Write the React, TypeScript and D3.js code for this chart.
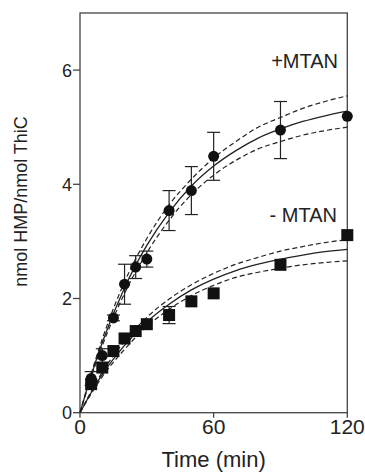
import React from 'react';
import * as d3 from 'd3';

// measured points
const times = [5, 10, 15, 20, 25, 30, 40, 50, 60, 90, 120];
const plusMtan = [0.6, 1.0, 1.66, 2.25, 2.55, 2.69, 3.54, 3.89, 4.49, 4.95, 5.19];
const plusErr = [0.12, 0.12, 0.05, 0.35, 0.2, 0.14, 0.35, 0.42, 0.42, 0.5, 0];
const minusMtan = [0.5, 0.79, 1.08, 1.3, 1.43, 1.55, 1.71, 1.95, 2.09, 2.59, 3.11];
const minusErr = [0, 0, 0, 0, 0, 0, 0.15, 0, 0, 0, 0];

const fitT = [0, 5, 10, 20, 30, 40, 50, 60, 70, 80, 90, 100, 110, 120];
const plusFit = [0, 0.65, 1.23, 2.19, 2.93, 3.51, 3.97, 4.32, 4.59, 4.81, 4.97, 5.1, 5.2, 5.28];
const plusHi = [0, 0.68, 1.29, 2.29, 3.05, 3.64, 4.09, 4.46, 4.75, 5.0, 5.17, 5.33, 5.45, 5.55];
const plusLo = [0, 0.62, 1.17, 2.09, 2.8, 3.37, 3.82, 4.16, 4.42, 4.62, 4.75, 4.86, 4.94, 5.0];
const minusFit = [0, 0.35, 0.67, 1.18, 1.59, 1.9, 2.15, 2.34, 2.49, 2.6, 2.69, 2.76, 2.82, 2.86];
const minusHi = [0, 0.37, 0.71, 1.25, 1.67, 1.99, 2.24, 2.44, 2.6, 2.72, 2.83, 2.91, 2.98, 3.03];
const minusLo = [0, 0.33, 0.63, 1.11, 1.51, 1.81, 2.05, 2.23, 2.37, 2.46, 2.53, 2.59, 2.63, 2.66];

const xTicks = [0, 60, 120];
const yTicks = [0, 2, 4, 6];

const W = 365, H = 472;
const left = 80, right = 347.3, top = 13, bottom = 412.7;
const ink = '#222';
const font = 'Liberation Sans, Arial, sans-serif';

export default function App() {
  const x = d3.scaleLinear().domain([0, 120]).range([left, right]);
  const y = d3.scaleLinear().domain([0, 7]).range([bottom, top]);
  const line = (vals: number[]) =>
    d3.line<number>()
      .x((_, i) => x(fitT[i]))
      .y(d => y(d))
      .curve(d3.curveMonotoneX)(vals) || '';

  const errBars = (vals: number[], errs: number[], key: string) =>
    times.map((t, i) => errs[i] > 0 ? (
      <g key={key + i} stroke={ink} strokeWidth={1.2}>
        <line x1={x(t)} x2={x(t)} y1={y(vals[i] - errs[i])} y2={y(vals[i] + errs[i])} />
        <line x1={x(t) - 6.5} x2={x(t) + 6.5} y1={y(vals[i] + errs[i])} y2={y(vals[i] + errs[i])} />
        <line x1={x(t) - 6.5} x2={x(t) + 6.5} y1={y(vals[i] - errs[i])} y2={y(vals[i] - errs[i])} />
      </g>
    ) : null);

  return (
    <svg width={W} height={H} style={{ position: 'absolute', left: 0, top: 0, background: '#fff' }}
      fontFamily={font}>
      {/* frame */}
      <rect x={left} y={top} width={right - left} height={bottom - top} fill="none" stroke="#444" strokeWidth={1.3} />

      {/* curves */}
      <g fill="none" stroke={ink}>
        <path d={line(plusFit)} strokeWidth={1.3} />
        <path d={line(plusHi)} strokeWidth={1.2} strokeDasharray="5,3" />
        <path d={line(plusLo)} strokeWidth={1.2} strokeDasharray="5,3" />
        <path d={line(minusFit)} strokeWidth={1.3} />
        <path d={line(minusHi)} strokeWidth={1.2} strokeDasharray="5,3" />
        <path d={line(minusLo)} strokeWidth={1.2} strokeDasharray="5,3" />
      </g>

      {errBars(plusMtan, plusErr, 'p')}
      {errBars(minusMtan, minusErr, 'm')}

      {times.map((t, i) => (
        <circle key={'c' + i} cx={x(t)} cy={y(plusMtan[i])} r={5.5} fill="#111" />
      ))}
      {times.map((t, i) => (
        <rect key={'s' + i} x={x(t) - 6} y={y(minusMtan[i]) - 6} width={12} height={12} fill="#111" />
      ))}

      {/* y axis */}
      {yTicks.map(v => (
        <g key={'y' + v}>
          <line x1={left - 7} x2={left} y1={y(v)} y2={y(v)} stroke="#444" strokeWidth={1.3} />
          <text x={left - 8} y={y(v)} dy="0.36em" textAnchor="end" fontSize={18} fill={ink}>{v}</text>
        </g>
      ))}
      {/* x axis */}
      {xTicks.map(v => (
        <g key={'x' + v}>
          <line x1={x(v)} x2={x(v)} y1={bottom} y2={bottom + 5} stroke="#444" strokeWidth={1.3} />
          <text x={x(v)} y={434} textAnchor="middle" fontSize={21} fill={ink}>{v}</text>
        </g>
      ))}

      <text x={(left + right) / 2} y={466.5} textAnchor="middle" fontSize={22} fill={ink}>Time (min)</text>
      <text transform={`translate(27,201.5) rotate(-90)`} textAnchor="middle" fontSize={18} fill={ink}>nmol HMP/nmol ThiC</text>

      <text x={338} y={68.3} textAnchor="end" fontSize={20} fill={ink}>+MTAN</text>
      <text x={337} y={221.7} textAnchor="end" fontSize={20} fill={ink}>- MTAN</text>
    </svg>
  );
}
